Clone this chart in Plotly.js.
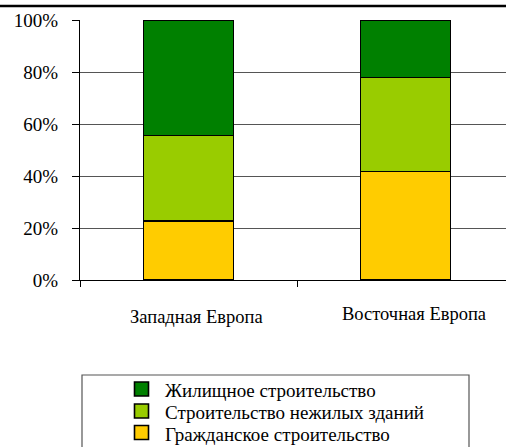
<!DOCTYPE html>
<html>
<head>
<meta charset="utf-8">
<script src="https://cdn.plot.ly/plotly-3.0.1.min.js"></script>
<style>
  html, body { margin: 0; padding: 0; overflow: hidden; background: #fff; }
  #chart { width: 520px; height: 447px; }
</style>
</head>
<body>
<div id="chart"></div>
<script>
// Regions on the category axis
const regions = ['Западная Европа', 'Восточная Европа'];

// Shares of construction segments, % of total
const civilShare = [22.6, 41.7];          // Гражданское строительство
const nonResidentialShare = [33.0, 36.1]; // Строительство нежилых зданий
const housingShare = [44.4, 22.2];        // Жилищное строительство

// Value axis ticks
const yTickValues = [0, 20, 40, 60, 80, 100];
const yTickLabels = ['0%', '20%', '40%', '60%', '80%', '100%'];

const seriesNames = [
  'Гражданское строительство',
  'Строительство нежилых зданий',
  'Жилищное строительство'
];
const seriesColors = ['#FFCC00', '#99CC00', '#008000'];
const seriesValues = [civilShare, nonResidentialShare, housingShare];

const serif = 'Liberation Serif';

// Plot box in pixels: left 80, top 20, width 434, height 260
const W = 520, H = 447, ML = 80, MT = 20, PW = 434, PH = 260;
const px = x => (x - ML) / PW;
const py = y => (MT + PH - y) / PH;

const traces = seriesValues.map((vals, i) => ({
  type: 'bar',
  x: regions,
  y: vals,
  name: seriesNames[i],
  marker: { color: seriesColors[i], line: { color: '#000', width: 1.5 } },
  hoverinfo: 'none',
  showlegend: false
}));

// Category labels under the axis
const labelPlacement = [{ dx: 8, y: 317 }, { dx: 8.5, y: 314 }];
const annotations = regions.map((r, i) => ({
  x: r, xref: 'x',
  y: py(labelPlacement[i].y), yref: 'paper',
  xshift: labelPlacement[i].dx,
  text: r, showarrow: false,
  xanchor: 'center', yanchor: 'middle',
  font: { family: serif, size: 18.5, color: '#000' }
}));

// Legend: top entry is the top segment of the stack
const legendRows = [389, 411, 432.5];
const legendOrder = [2, 1, 0];
const shapes = [
  // heading rule across the top
  { type: 'line', xref: 'paper', yref: 'paper',
    x0: px(-20), x1: px(530), y0: py(6), y1: py(6),
    line: { color: '#000', width: 2.5 } },
  // legend frame
  { type: 'rect', xref: 'paper', yref: 'paper',
    x0: px(82), x1: px(469), y0: py(375), y1: py(470),
    line: { color: '#555', width: 1.2 }, fillcolor: 'rgba(0,0,0,0)' }
];
legendOrder.forEach((s, row) => {
  const cy = legendRows[row];
  shapes.push({
    type: 'rect', xref: 'paper', yref: 'paper',
    x0: px(134.5), x1: px(148.5), y0: py(cy - 7), y1: py(cy + 7),
    line: { color: '#000', width: 1.6 }, fillcolor: seriesColors[s]
  });
  annotations.push({
    x: px(163), xref: 'paper', y: py(cy + 1.5), yref: 'paper',
    xanchor: 'left', yanchor: 'middle',
    text: seriesNames[s], showarrow: false,
    font: { family: serif, size: 19, color: '#000' }
  });
});

const layout = {
  width: W,
  height: H,
  margin: { l: ML, r: W - ML - PW, t: MT, b: H - MT - PH, autoexpand: false },
  paper_bgcolor: '#fff',
  plot_bgcolor: '#fff',
  font: { family: serif, color: '#000' },
  barmode: 'stack',
  bargap: 0.585,
  showlegend: false,
  xaxis: {
    type: 'category',
    showticklabels: false,
    ticks: 'outside',
    tickson: 'boundaries',
    ticklen: 6,
    tickcolor: '#000',
    showline: true,
    linecolor: '#000',
    linewidth: 1,
    showgrid: false,
    zeroline: false,
    fixedrange: true
  },
  yaxis: {
    range: [0, 100],
    tickmode: 'array',
    tickvals: yTickValues,
    ticktext: yTickLabels,
    ticks: 'outside',
    ticklen: 7,
    tickcolor: '#000',
    ticklabelstandoff: 10,
    showline: true,
    linecolor: '#000',
    linewidth: 1,
    showgrid: true,
    gridcolor: '#555',
    gridwidth: 1,
    zeroline: false,
    tickfont: { family: serif, size: 19, color: '#000' },
    fixedrange: true
  },
  annotations: annotations,
  shapes: shapes
};

Plotly.newPlot('chart', traces, layout, { staticPlot: true, displayModeBar: false });
</script>
</body>
</html>
